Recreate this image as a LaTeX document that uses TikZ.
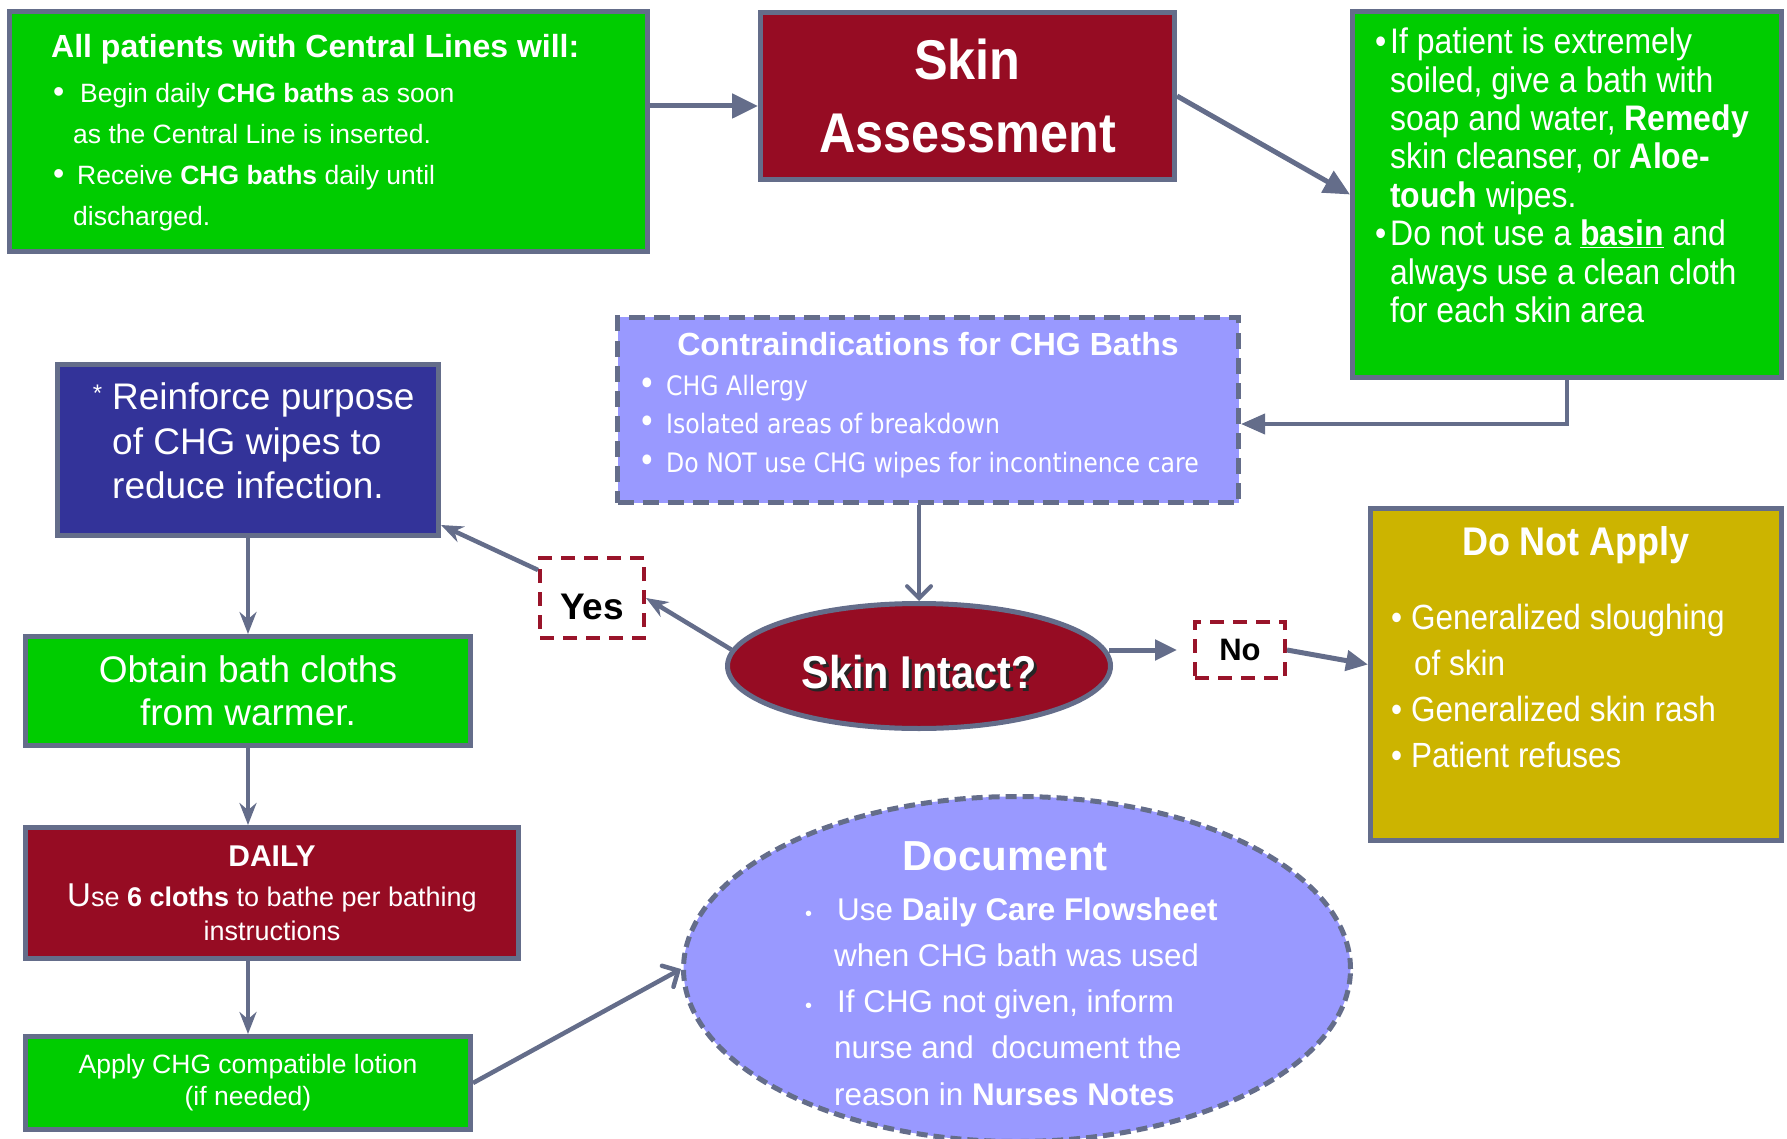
\documentclass[tikz,border=0pt]{standalone}
\usepackage{fontspec}
\setmainfont{Liberation Sans}
\newfontfamily\narrowsans[FakeStretch=0.9]{Liberation Sans}
\newfontfamily\tahomaish[FakeStretch=0.88]{DejaVu Sans}
\usetikzlibrary{positioning,shapes.geometric,arrows.meta}

\definecolor{chggreen}{HTML}{00CC00}
\definecolor{chgred}{HTML}{960C23}
\definecolor{lilac}{HTML}{9999FF}
\definecolor{chgnavy}{HTML}{333399}
\definecolor{chgolive}{HTML}{CCB400}
\definecolor{edgegray}{HTML}{646D8A}
\definecolor{dashred}{HTML}{99142A}

\newcommand\fsz[2]{\fontsize{#1}{#2}\selectfont}
\newcommand\shadowed[1]{\makebox[0pt][l]{\hspace{3pt}\raisebox{-3pt}{\textcolor{black!85}{#1}}}#1}

\tikzstyle{box} = [draw=edgegray, line width=5pt, rectangle, inner sep=0pt, text=white]
\tikzstyle{dashbox} = [box, dash pattern=on 16pt off 9pt]
\tikzstyle{yesno} = [draw=dashred, line width=4pt, dash pattern=on 14pt off 9pt, inner sep=0pt, font=\bfseries\fsz{37}{40}]
\tikzstyle{txt} = [inner sep=0pt, text=white, align=left, anchor=west]
\tikzstyle{tri} = [draw=edgegray, line width=5pt, -{Triangle[length=26pt,width=24pt]}]
\tikzstyle{stealthy} = [draw=edgegray, line width=4.5pt, -{Stealth[length=22pt,width=17pt]}]
\tikzstyle{barb} = [draw=edgegray, line width=4.5pt, -{Straight Barb[length=12pt,width=24pt,line cap=round]}]

\begin{document}
\begin{tikzpicture}[x=1pt,y=-1pt]
\useasboundingbox (0,0) rectangle (1787,1139);

% top row
\node[box, fill=chggreen, minimum width=638pt, minimum height=240pt] (lines) at (328.5,131.5) {};
\node[txt, font=\fsz{26.5}{41}] (linestxt) at (51,132.5) {%
  {\bfseries\fsz{32}{41}All patients with Central Lines will:}\\[4pt]
  \hspace*{2pt}\makebox[27pt][l]{\fsz{32}{32}\textbullet}Begin daily \textbf{CHG baths} as soon\\
  \hspace*{22pt}as the Central Line is inserted.\\
  \hspace*{2pt}\makebox[24pt][l]{\fsz{32}{32}\textbullet}Receive \textbf{CHG baths} daily until\\
  \hspace*{22pt}discharged.};

\node[box, fill=chgred, minimum width=414pt, minimum height=167pt, align=center,
  font=\narrowsans\bfseries\fsz{56}{73}] (assess) at (967.5,96) {Skin\\Assessment};

\node[box, fill=chggreen, minimum width=429pt, minimum height=366pt] (soiled) at (1567,194.5) {};
\node[txt, font=\narrowsans\fsz{35.5}{38.4}] (soiledtxt) at (1375,175.5) {%
  \makebox[15pt][l]{\textbullet}If patient is extremely\\
  \hspace*{15pt}soiled, give a bath with\\
  \hspace*{15pt}soap and water, \textbf{Remedy}\\
  \hspace*{15pt}skin cleanser, or \textbf{Aloe-}\\
  \hspace*{15pt}\textbf{touch} wipes.\\
  \makebox[15pt][l]{\textbullet}Do not use a \textbf{\underline{basin}} and\\
  \hspace*{15pt}always use a clean cloth\\
  \hspace*{15pt}for each skin area};

% contraindications
\node[dashbox, fill=lilac, minimum width=621pt, minimum height=185pt] (contra) at (928,410) {};
\node[inner sep=0pt, text=white, font=\bfseries\fsz{32}{38}] (contratitle) at (928,344) {Contraindications for CHG Baths};
\node[txt, font=\tahomaish\fsz{26.8}{38.5}] (contratxt) at (638,426.5) {%
  \makebox[28pt][l]{\fsz{34}{34}\textbullet}CHG Allergy\\
  \makebox[28pt][l]{\fsz{34}{34}\textbullet}Isolated areas of breakdown\\
  \makebox[28pt][l]{\fsz{34}{34}\textbullet}Do NOT use CHG wipes for incontinence care};

% decision
\node[box, fill=chgnavy, minimum width=381pt, minimum height=171pt] (reinforce) at (248,450) {};
\node[txt, font=\fsz{37}{44.5}] (reinforcetxt) at (112,441) {%
  \llap{\raisebox{8pt}{\fsz{24}{24}*}\hspace{10pt}}Reinforce purpose\\
  of CHG wipes to\\
  reduce infection.};

\node[yesno, minimum width=104pt, minimum height=80pt, text height=42pt, text depth=0pt] (yes) at (592,598) {Yes};

\node[ellipse, draw=edgegray, line width=5pt, fill=chgred, inner sep=0pt,
  minimum width=383pt, minimum height=125pt, text=white, text height=45pt, text depth=0pt,
  font=\narrowsans\bfseries\fsz{46}{50}] (intact) at (919,666) {\shadowed{Skin Intact?}};

\node[yesno, minimum width=90pt, minimum height=56pt, font=\bfseries\fsz{31}{36}] (no) at (1240,650) {No};

\node[box, fill=chgolive, minimum width=411pt, minimum height=332pt] (donot) at (1576,674.5) {};
\node[inner sep=0pt, text=white, font=\narrowsans\bfseries\fsz{40}{46}] (donottitle) at (1576,545) {Do Not Apply};
\node[txt, font=\narrowsans\fsz{35}{46}] (donottxt) at (1391,685.5) {%
  \makebox[20pt][l]{\textbullet}Generalized sloughing\\
  \hspace*{23pt}of skin\\
  \makebox[20pt][l]{\textbullet}Generalized skin rash\\
  \makebox[20pt][l]{\textbullet}Patient refuses};

% left column
\node[box, fill=chggreen, minimum width=445pt, minimum height=109pt, align=center,
  font=\fsz{37}{43}] (obtain) at (248,691) {Obtain bath cloths\\from warmer.};

\node[box, fill=chgred, minimum width=493pt, minimum height=131pt, align=center,
  font=\fsz{27}{34}] (daily) at (272,893) {%
  {\bfseries\fsz{30}{34}DAILY}\\[6pt]
  {\fsz{33}{34}U}se \textbf{6 cloths} to bathe per bathing\\
  instructions};

\node[box, fill=chggreen, minimum width=445pt, minimum height=93pt, align=center,
  font=\fsz{26.5}{32}] (apply) at (248,1083) {Apply CHG compatible lotion\\(if needed)};

% document
\node[ellipse, draw=edgegray, line width=5pt, dash pattern=on 11pt off 6pt, fill=lilac,
  inner sep=0pt, minimum width=667pt, minimum height=345pt] (doc) at (1017,969) {};
\node[inner sep=0pt, text=white, font=\bfseries\fsz{42}{46}] (doctitle) at (1005,856) {Document};
\node[txt, font=\fsz{31.4}{46.2}] (doctxt) at (805,1001.5) {%
  \makebox[32pt][l]{\fsz{20}{20}\textbullet}Use \textbf{Daily Care Flowsheet}\\
  \hspace*{29pt}when CHG bath was used\\
  \makebox[32pt][l]{\fsz{20}{20}\textbullet}If CHG not given, inform\\
  \hspace*{29pt}nurse and\ \ document the\\
  \hspace*{29pt}reason in \textbf{Nurses Notes}};

% connectors
\coordinate (ab) at (0,106);
\coordinate (cd) at (0,424);
\draw[tri] (lines.east |- ab) -- (assess.west |- ab);
\draw[tri] (assess.east) -- (soiled.west);
\draw[tri, line width=4pt, -{Triangle[length=24pt,width=20pt]}] (soiled.south) |- (contra.east |- cd);
\draw[barb, line width=4pt] (intact.north |- contra.south) -- (intact.north);
\draw[stealthy] (intact.175) -- (yes.east);
\draw[stealthy] ([yshift=28pt]yes.west) -- ([yshift=13pt]reinforce.south east);
\draw[tri, shorten >=16pt, -{Triangle[length=22pt,width=20pt]}] ([xshift=-4pt]intact.east |- no.west) -- (no.west);
\draw[tri, -{Triangle[length=22pt,width=20pt]}] (no.east) -- ([yshift=10pt]donot.west);
\draw[stealthy] (reinforce) -- (obtain);
\draw[stealthy] (obtain.south) -- (obtain.south |- daily.north);
\draw[stealthy] (apply.north |- daily.south) -- (apply.north);
\draw[barb] (apply.east) -- (doc.west);
\end{tikzpicture}
\end{document}
